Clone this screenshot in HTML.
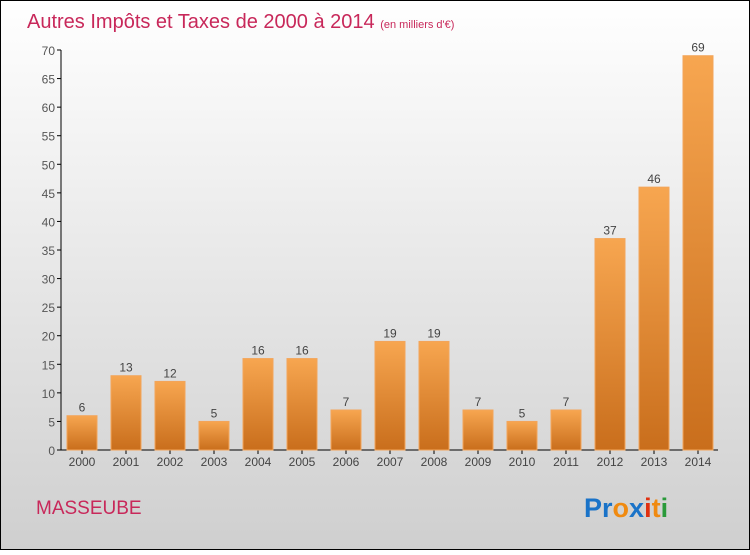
<!DOCTYPE html>
<html><head><meta charset="utf-8"><style>
html,body{margin:0;padding:0}
body{width:750px;height:550px;overflow:hidden;font-family:"Liberation Sans",sans-serif}
</style></head><body>
<svg width="750" height="550" xmlns="http://www.w3.org/2000/svg">
<defs>
<linearGradient id="bg" x1="0" y1="0" x2="0" y2="1"><stop offset="0" stop-color="#ffffff"/><stop offset="1" stop-color="#cfcfcf"/></linearGradient>
<linearGradient id="bar" x1="0" y1="0" x2="0" y2="1"><stop offset="0" stop-color="#f7a650"/><stop offset="1" stop-color="#c96e1c"/></linearGradient>
</defs>
<rect x="0.5" y="0.5" width="749" height="549" fill="url(#bg)" stroke="#000"/>
<text x="27" y="28" font-size="20" fill="#c8285a">Autres Impôts et Taxes de 2000 à 2014 <tspan font-size="11">(en milliers d'€)</tspan></text>
<g id="plot"></g>
<text x="36" y="514" font-size="19" fill="#c8285a">MASSEUBE</text>
<text x="584" y="517" font-size="27" font-weight="bold"><tspan fill="#1a73c8">Pr</tspan><tspan fill="#f08a10">o</tspan><tspan fill="#1a73c8">x</tspan><tspan fill="#e03010">i</tspan><tspan fill="#f08a10">t</tspan><tspan fill="#2a9a3a">i</tspan></text>
</svg>
<script>
const years=["2000","2001","2002","2003","2004","2005","2006","2007","2008","2009","2010","2011","2012","2013","2014"];
const values=[6,13,12,5,16,16,7,19,19,7,5,7,37,46,69];
const yTicks=[0,5,10,15,20,25,30,35,40,45,50,55,60,65,70];
const NS="http://www.w3.org/2000/svg";
const g=document.getElementById('plot');
const y0=450,y1=50,vmax=70;
const ys=v=>y0-(v/vmax)*(y0-y1);
const xs=i=>82+i*44;
function el(t,a,p){const e=document.createElementNS(NS,t);for(const k in a)e.setAttribute(k,a[k]);(p||g).appendChild(e);return e;}
const yAxis=el('line',{x1:61,y1:y1,x2:61,y2:y0,stroke:'#000'});


const xAxis=el('line',{x1:61,y1:y0,x2:718,y2:y0,stroke:'#000'});


yTicks.forEach(v=>{
  const y=ys(v);
  el('line',{x1:57,y1:y,x2:61,y2:y,stroke:'#000'});
  const t=el('text',{x:55,y:y+5,'font-size':12,fill:'#555','text-anchor':'end'});
  t.textContent=v;
  
  
});
years.forEach((yr,i)=>{
  const x=xs(i),v=values[i];
  el('line',{x1:x,y1:y0,x2:x,y2:y0+4,stroke:'#000'});
  const b=el('rect',{x:x-15,y:ys(v),width:30,height:y0-ys(v),fill:'url(#bar)',stroke:'#f3a55a','stroke-width':1});
  
  
  const l=el('text',{x:x,y:ys(v)-4,'font-size':12,fill:'#444','text-anchor':'middle'});
  l.textContent=v;
  
  
  const t=el('text',{x:x,y:466,'font-size':12,fill:'#444','text-anchor':'middle'});
  t.textContent=yr;
  
  
});
</script>
</body></html>
